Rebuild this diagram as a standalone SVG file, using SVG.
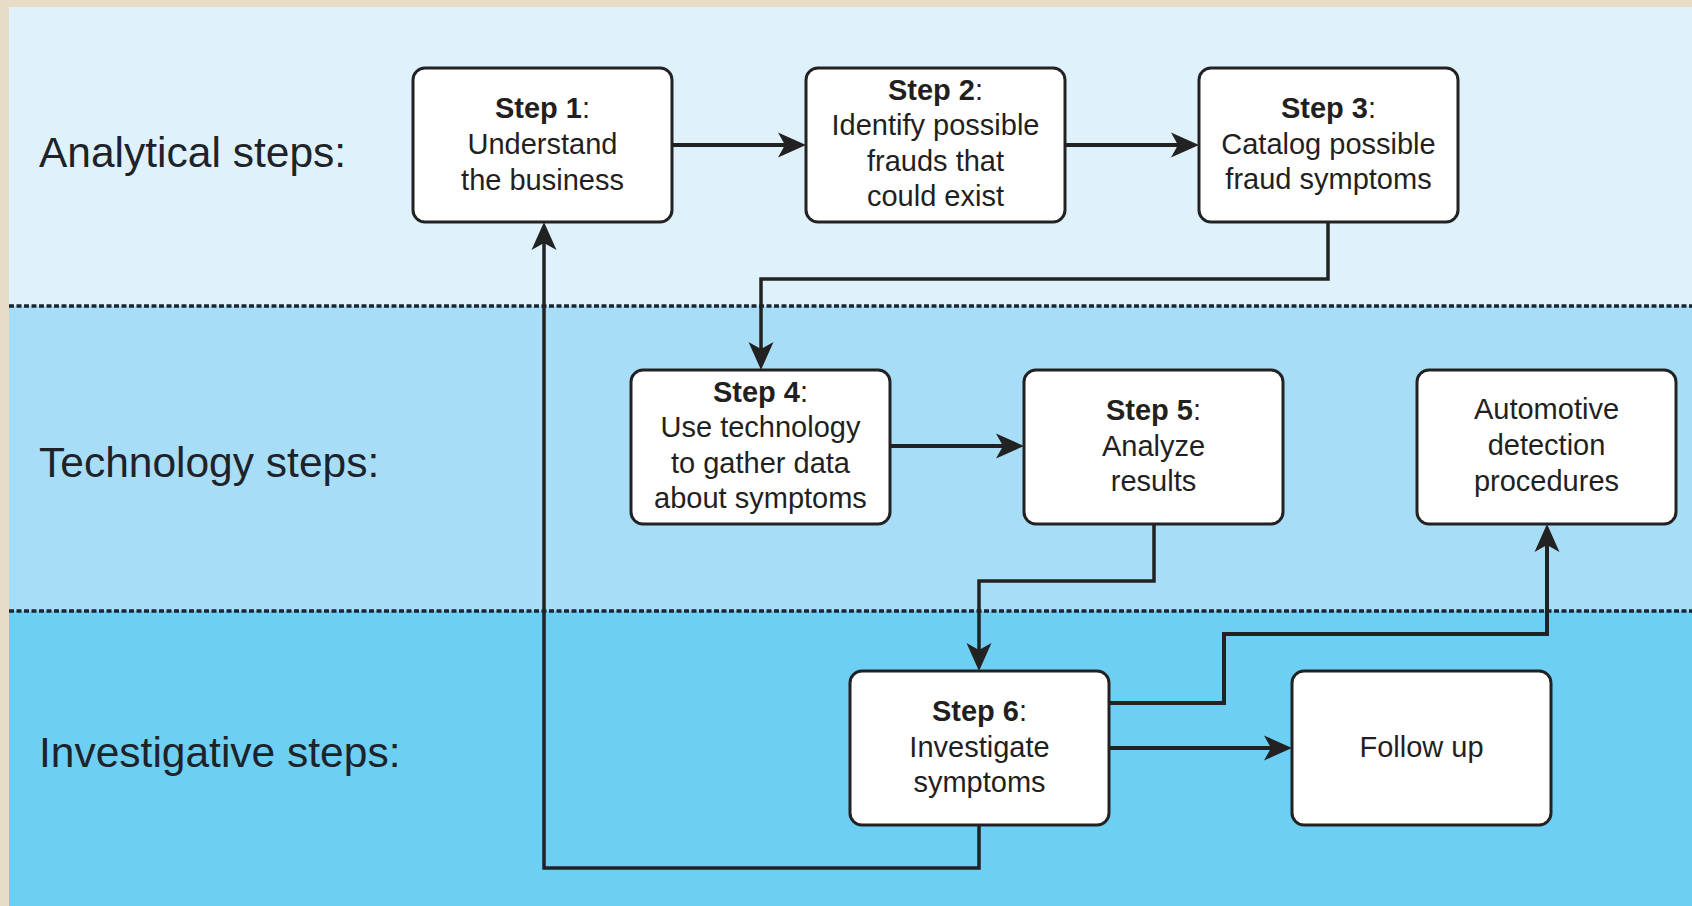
<svg xmlns="http://www.w3.org/2000/svg" width="1692" height="906" viewBox="0 0 1692 906">
<style>
.lane{font-family:"Liberation Sans",Arial,sans-serif;font-size:42.5px;fill:#1e2329}
.box{fill:#ffffff;stroke:#222;stroke-width:3}
.t{font-family:"Liberation Sans",Arial,sans-serif;font-size:29px;fill:#231f20;text-anchor:middle}
.b{font-weight:bold}
.sep{stroke:#1a2633;stroke-width:3.5;stroke-dasharray:5 2.5}
.c{fill:none;stroke:#222;stroke-width:3.5;stroke-linejoin:miter}
.c4{stroke-width:4}
</style>
<defs>
<marker id="ah" markerUnits="userSpaceOnUse" viewBox="-14 -13 30 26" markerWidth="30" markerHeight="26" refX="0" refY="0" orient="auto" overflow="visible">
<path d="M15,0 L-13,-12.5 L-6,0 L-13,12.5 Z" fill="#222"/>
</marker>
</defs>
<rect x="0" y="0" width="1692" height="906" fill="#e7ddc6"/>
<rect x="9" y="7" width="1683" height="299" fill="#dff2fc"/>
<rect x="9" y="306" width="1683" height="305" fill="#a8ddf7"/>
<rect x="9" y="611" width="1683" height="295" fill="#6dcff4"/>
<line class="sep" x1="9" y1="306" x2="1692" y2="306"/>
<line class="sep" x1="9" y1="611" x2="1692" y2="611"/>
<text class="lane" x="39" y="167">Analytical steps:</text>
<text class="lane" x="39" y="477">Technology steps:</text>
<text class="lane" x="39" y="767">Investigative steps:</text>
<g id="connectors">
<path class="c c4" d="M672,145 H791" marker-end="url(#ah)"/>
<path class="c c4" d="M1065,145 H1184" marker-end="url(#ah)"/>
<path class="c" d="M1328,222 V279 H761 V355" marker-end="url(#ah)"/>
<path class="c c4" d="M890,446 H1009" marker-end="url(#ah)"/>
<path class="c" d="M1154,524 V581 H979 V656" marker-end="url(#ah)"/>
<path class="c c4" d="M1109,703 H1224 V634 H1547 V539" marker-end="url(#ah)"/>
<path class="c c4" d="M1109,748 H1277" marker-end="url(#ah)"/>
<path class="c" d="M979,825 V868 H544 V237" marker-end="url(#ah)"/>
</g>
<g id="step1">
<rect class="box" x="413" y="68" width="259" height="154" rx="12"/>
<text class="t" x="542.5" y="118"><tspan class="b">Step 1</tspan>:</text>
<text class="t" x="542.5" y="154">Understand</text>
<text class="t" x="542.5" y="190">the business</text>
</g>
<g id="step2">
<rect class="box" x="806" y="68" width="259" height="154" rx="12"/>
<text class="t" x="935.5" y="100"><tspan class="b">Step 2</tspan>:</text>
<text class="t" x="935.5" y="135">Identify possible</text>
<text class="t" x="935.5" y="171">frauds that</text>
<text class="t" x="935.5" y="206">could exist</text>
</g>
<g id="step3">
<rect class="box" x="1199" y="68" width="259" height="154" rx="12"/>
<text class="t" x="1328.5" y="118"><tspan class="b">Step 3</tspan>:</text>
<text class="t" x="1328.5" y="154">Catalog possible</text>
<text class="t" x="1328.5" y="189">fraud symptoms</text>
</g>
<g id="step4">
<rect class="box" x="631" y="370" width="259" height="154" rx="12"/>
<text class="t" x="760.5" y="402"><tspan class="b">Step 4</tspan>:</text>
<text class="t" x="760.5" y="437">Use technology</text>
<text class="t" x="760.5" y="473">to gather data</text>
<text class="t" x="760.5" y="508">about symptoms</text>
</g>
<g id="step5">
<rect class="box" x="1024" y="370" width="259" height="154" rx="12"/>
<text class="t" x="1153.5" y="420"><tspan class="b">Step 5</tspan>:</text>
<text class="t" x="1153.5" y="456">Analyze</text>
<text class="t" x="1153.5" y="491">results</text>
</g>
<g id="automotive">
<rect class="box" x="1417" y="370" width="259" height="154" rx="12"/>
<text class="t" x="1546.5" y="419">Automotive</text>
<text class="t" x="1546.5" y="455">detection</text>
<text class="t" x="1546.5" y="491">procedures</text>
</g>
<g id="step6">
<rect class="box" x="850" y="671" width="259" height="154" rx="12"/>
<text class="t" x="979.5" y="721"><tspan class="b">Step 6</tspan>:</text>
<text class="t" x="979.5" y="757">Investigate</text>
<text class="t" x="979.5" y="792">symptoms</text>
</g>
<g id="followup">
<rect class="box" x="1292" y="671" width="259" height="154" rx="12"/>
<text class="t" x="1421.5" y="757">Follow up</text>
</g>
</svg>
